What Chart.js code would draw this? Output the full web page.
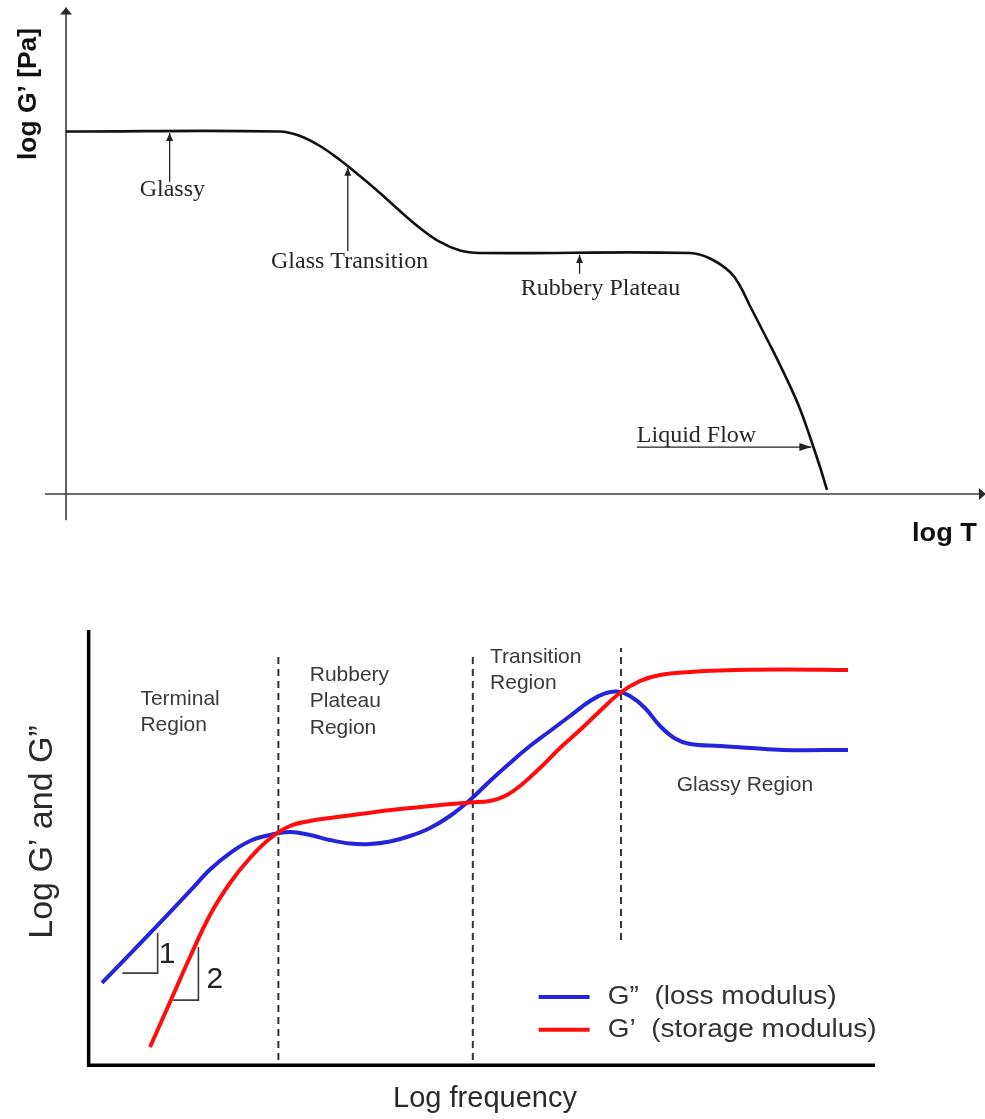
<!DOCTYPE html>
<html>
<head>
<meta charset="utf-8">
<script src="https://cdn.jsdelivr.net/npm/chart.js@4"></script>
<style>
  html, body { margin: 0; padding: 0; background: #fff; }
  body { width: 985px; height: 1119px; position: relative; overflow: hidden; }
  #top-box { position: absolute; left: 0; top: 0; width: 985px; height: 560px; }
  #bottom-box { position: absolute; left: 0; top: 560px; width: 985px; height: 559px; }
</style>
</head>
<body>
<div id="top-box"><canvas id="temp-chart"></canvas></div>
<div id="bottom-box"><canvas id="freq-chart"></canvas></div>
<script>
// both charts use arbitrary units 0..10 on each axis (schematic, no ticks)

// top: log G' against log T
const tempX = [0, 2.354, 2.574, 2.794, 3.014, 3.234, 3.454, 3.674, 3.894, 4.114, 4.334, 4.554,
  6.865, 7.085, 7.305, 7.415, 7.525, 7.635, 7.745, 7.855, 7.965, 8.075, 8.185, 8.295, 8.372];
const tempY = [7.49, 7.49, 7.397, 7.19, 6.901, 6.57, 6.219, 5.847, 5.496, 5.207, 5.031, 4.979,
  4.979, 4.866, 4.587, 4.298, 3.884, 3.481, 3.079, 2.665, 2.231, 1.756, 1.178, 0.558, 0.083];
const tempLabels = ["Glassy", "Glass Transition", "Rubbery Plateau", "Liquid Flow"];

// bottom: G'' and G' against log frequency
const lossX = [0.140, 0.753, 1.263, 1.518, 1.773, 2.028, 2.283, 2.538, 2.793, 3.048, 3.304, 3.559, 3.814, 4.069, 4.324, 4.579, 4.834,
  5.089, 5.344, 5.599, 5.855, 6.110, 6.365, 6.556, 6.709, 6.875, 7.066, 7.258, 7.449, 7.640, 8.023, 8.406, 8.827, 9.656];
const lossY = [1.904, 3.050, 4.014, 4.507, 4.885, 5.161, 5.298, 5.367, 5.298, 5.183, 5.103, 5.092, 5.149, 5.275, 5.459, 5.734, 6.101,
  6.537, 6.950, 7.339, 7.683, 8.028, 8.372, 8.544, 8.589, 8.486, 8.211, 7.798, 7.512, 7.385, 7.339, 7.294, 7.248, 7.248];
const storageX = [0.753, 1.008, 1.263, 1.518, 1.773, 2.028, 2.283, 2.538, 2.793, 3.048, 3.431, 3.941, 4.452, 4.834,
  5.089, 5.281, 5.472, 5.727, 5.982, 6.237, 6.492, 6.747, 7.003, 7.258, 7.640, 8.023, 8.788, 9.656];
const storageY = [0.436, 1.468, 2.500, 3.463, 4.197, 4.771, 5.218, 5.505, 5.619, 5.688, 5.780, 5.894, 5.986, 6.044,
  6.078, 6.193, 6.422, 6.835, 7.294, 7.706, 8.142, 8.555, 8.830, 8.968, 9.037, 9.071, 9.094, 9.083];

// region boundaries (dashed)
const dashX = [2.39, 4.87, 6.76];
const dashTop = [9.47, 9.47, 9.59];
const dashBottom = [0.14, 0.14, 2.89];

// slope triangles
const slope1X = [0.40, 0.85, 0.85];
const slope1Y = [2.13, 2.13, 3.05];
const slope2X = [1.05, 1.37, 1.37];
const slope2Y = [1.51, 1.51, 2.73];
const slopeLabels = ["1", "2"];

const regionLabels = [["Terminal", "Region"], ["Rubbery", "Plateau", "Region"], ["Transition", "Region"], ["Glassy Region"]];
const seriesNames = ["G\u201D  (loss modulus)", "G\u2019  (storage modulus)"];

const BLUE = "#2424dc";
const RED = "#ff0d0d";

const toPoints = (xs, ys) => xs.map((x, i) => ({ x: x, y: ys[i] }));

const arrowHead = (ctx, x1, y1, x2, y2, len, half) => {
  const a = Math.atan2(y2 - y1, x2 - x1);
  ctx.beginPath();
  ctx.moveTo(x2, y2);
  ctx.lineTo(x2 - len * Math.cos(a) + half * Math.sin(a), y2 - len * Math.sin(a) - half * Math.cos(a));
  ctx.lineTo(x2 - len * Math.cos(a) - half * Math.sin(a), y2 - len * Math.sin(a) + half * Math.cos(a));
  ctx.closePath();
  ctx.fill();
};

const arrow = (ctx, x1, y1, x2, y2, len, half) => {
  ctx.beginPath();
  ctx.moveTo(x1, y1);
  ctx.lineTo(x2, y2);
  ctx.stroke();
  arrowHead(ctx, x1, y1, x2, y2, len, half);
};

// draws text squeezed/stretched to a given width
const fitText = (ctx, text, x, y, width) => {
  const w = ctx.measureText(text).width;
  ctx.save();
  ctx.translate(x, y);
  ctx.scale(width / w, 1);
  ctx.fillText(text, 0, 0);
  ctx.restore();
};

const hiddenScales = {
  x: { type: "linear", display: false, min: 0, max: 10 },
  y: { type: "linear", display: false, min: 0, max: 10 },
};

const tempDecor = {
  id: "tempDecor",
  beforeDatasetsDraw(chart) {
    const { ctx, scales: { x, y } } = chart;
    ctx.save();
    ctx.strokeStyle = "#3a3a3a";
    ctx.fillStyle = "#2a2a2a";
    ctx.lineWidth = 1.6;
    // axes cross a bit past the origin
    arrow(ctx, x.getPixelForValue(0), y.getPixelForValue(-0.54), x.getPixelForValue(0), y.getPixelForValue(10.05), 7, 6);
    arrow(ctx, x.getPixelForValue(-0.23), y.getPixelForValue(0), x.getPixelForValue(10.12), y.getPixelForValue(0), 7, 6);
    ctx.restore();
  },
  afterDatasetsDraw(chart) {
    const { ctx, scales: { x, y } } = chart;
    const px = (v) => x.getPixelForValue(v);
    const py = (v) => y.getPixelForValue(v);
    ctx.save();
    ctx.strokeStyle = "#222";
    ctx.fillStyle = "#222";
    ctx.lineWidth = 1.3;
    arrow(ctx, px(1.14), py(6.45), px(1.14), py(7.46), 8, 3.5);
    arrow(ctx, px(3.10), py(5.02), px(3.10), py(6.74), 8, 3.5);
    arrow(ctx, px(5.65), py(4.55), px(5.65), py(4.94), 8, 3.5);
    arrow(ctx, px(6.28), py(0.97), px(8.20), py(0.97), 12, 4);

    ctx.font = "24px 'Liberation Serif', 'Times New Roman', serif";
    ctx.fillStyle = "#262626";
    ctx.textBaseline = "middle";
    ctx.textAlign = "center";
    ctx.fillText(tempLabels[0], px(1.17), py(6.28));
    ctx.fillText(tempLabels[1], px(3.12), py(4.79));
    ctx.fillText(tempLabels[2], px(5.88), py(4.25));
    ctx.textAlign = "left";
    ctx.fillText(tempLabels[3], px(6.28), py(1.21));

    ctx.fillStyle = "#111";
    ctx.font = "bold 26px 'Liberation Sans', Arial, sans-serif";
    ctx.textAlign = "left";
    fitText(ctx, "log T", 912, 534, 65);
    ctx.translate(29, 94);
    ctx.rotate(-Math.PI / 2);
    fitText(ctx, "log G\u2019 [Pa]", -66, 0, 132);
    ctx.restore();
  },
};

new Chart(document.getElementById("temp-chart"), {
  type: "line",
  data: {
    datasets: [
      {
        data: toPoints(tempX, tempY),
        borderColor: "#111",
        borderWidth: 2.6,
        pointRadius: 0,
        tension: 0.4,
        fill: false,
      },
    ],
  },
  options: {
    responsive: true,
    maintainAspectRatio: false,
    animation: false,
    layout: { padding: { left: 66, top: 10, right: 10, bottom: 66 } },
    scales: hiddenScales,
    plugins: { legend: { display: false }, tooltip: { enabled: false } },
  },
  plugins: [tempDecor],
});

const freqDecor = {
  id: "freqDecor",
  beforeDatasetsDraw(chart) {
    const { ctx, scales: { x, y } } = chart;
    ctx.save();
    ctx.strokeStyle = "#000";
    ctx.lineWidth = 3.5;
    ctx.beginPath();
    ctx.moveTo(x.getPixelForValue(-0.03), y.getPixelForValue(10));
    ctx.lineTo(x.getPixelForValue(-0.03), y.getPixelForValue(0.02));
    ctx.lineTo(x.getPixelForValue(10), y.getPixelForValue(0.02));
    ctx.stroke();
    ctx.restore();
  },
  afterDatasetsDraw(chart) {
    const { ctx, scales: { x, y } } = chart;
    const px = (v) => x.getPixelForValue(v);
    const py = (v) => y.getPixelForValue(v);
    ctx.save();
    ctx.textBaseline = "middle";
    ctx.textAlign = "left";
    ctx.fillStyle = "#3a3a3a";
    ctx.font = "21px 'Liberation Sans', Arial, sans-serif";
    const regionAt = [[0.63, 8.42], [2.79, 8.97], [5.09, 9.38], [7.47, 6.44]];
    regionLabels.forEach((lines, i) => {
      lines.forEach((t, j) => ctx.fillText(t, px(regionAt[i][0]), py(regionAt[i][1]) + j * 26.5));
    });

    ctx.fillStyle = "#222";
    ctx.font = "30px 'Liberation Sans', Arial, sans-serif";
    ctx.textAlign = "center";
    ctx.fillText(slopeLabels[0], px(0.97), py(2.55));
    ctx.fillText(slopeLabels[1], px(1.58), py(1.97));

    // legend
    ctx.lineWidth = 4;
    ctx.strokeStyle = BLUE;
    ctx.beginPath();
    ctx.moveTo(px(5.71), py(1.58));
    ctx.lineTo(px(6.36), py(1.58));
    ctx.stroke();
    ctx.strokeStyle = RED;
    ctx.beginPath();
    ctx.moveTo(px(5.71), py(0.83));
    ctx.lineTo(px(6.36), py(0.83));
    ctx.stroke();
    ctx.fillStyle = "#333";
    ctx.textAlign = "left";
    ctx.font = "25px 'Liberation Sans', Arial, sans-serif";
    fitText(ctx, seriesNames[0], px(6.59), py(1.58), 229);
    fitText(ctx, seriesNames[1], px(6.59), py(0.83), 269);

    // axis titles
    ctx.fillStyle = "#2a2a2a";
    ctx.font = "29px 'Liberation Sans', Arial, sans-serif";
    ctx.textAlign = "center";
    ctx.fillText("Log frequency", 485, 539);
    ctx.font = "34px 'Liberation Sans', Arial, sans-serif";
    ctx.translate(43, 272);
    ctx.rotate(-Math.PI / 2);
    ctx.fillText("Log G\u2019 and G\u201D", 0, 0);
    ctx.restore();
  },
};

const dashSets = dashX.map((dx, i) => ({
  data: [{ x: dx, y: dashBottom[i] }, { x: dx, y: dashTop[i] }],
  borderColor: "#333",
  borderWidth: 2,
  borderDash: [7, 5],
  pointRadius: 0,
  tension: 0,
  order: 3,
}));

const slopeStyle = { borderColor: "#3c3c3c", borderWidth: 1.6, pointRadius: 0, tension: 0, order: 2 };

new Chart(document.getElementById("freq-chart"), {
  type: "line",
  data: {
    datasets: [
      ...dashSets,
      { data: toPoints(slope1X, slope1Y), ...slopeStyle },
      { data: toPoints(slope2X, slope2Y), ...slopeStyle },
      {
        label: seriesNames[0],
        data: toPoints(lossX, lossY),
        borderColor: BLUE,
        borderWidth: 4,
        pointRadius: 0,
        tension: 0.4,
        order: 1,
      },
      {
        label: seriesNames[1],
        data: toPoints(storageX, storageY),
        borderColor: RED,
        borderWidth: 4,
        pointRadius: 0,
        tension: 0.4,
        order: 0,
      },
    ],
  },
  options: {
    responsive: true,
    maintainAspectRatio: false,
    animation: false,
    layout: { padding: { left: 91, top: 70, right: 110, bottom: 53 } },
    scales: hiddenScales,
    plugins: { legend: { display: false }, tooltip: { enabled: false } },
  },
  plugins: [freqDecor],
});
</script>
</body>
</html>
